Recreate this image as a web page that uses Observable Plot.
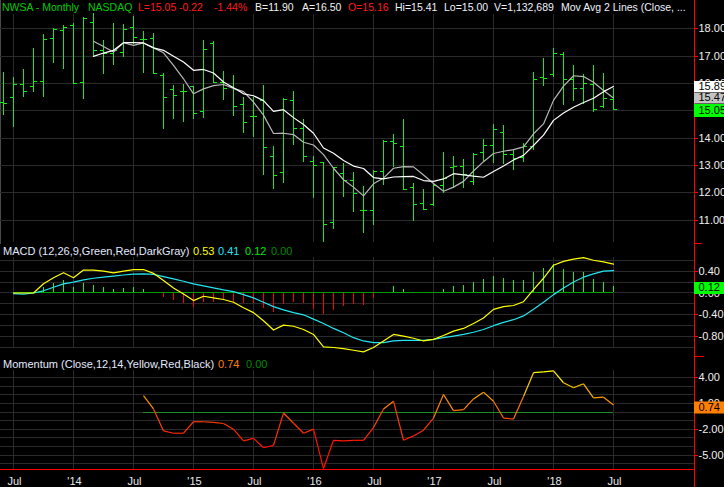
<!DOCTYPE html>
<html><head><meta charset="utf-8">
<script src="https://cdn.jsdelivr.net/npm/d3@7"></script>
<script src="https://cdn.jsdelivr.net/npm/@observablehq/plot@0.6"></script>
<style>
html,body{margin:0;padding:0;background:#000;}
#chart{position:relative;width:724px;height:487px;background:#000;overflow:hidden;font-family:"Liberation Sans",Arial,sans-serif;font-size:11px;}
#chart svg{position:absolute;left:0;}
.t{position:absolute;white-space:pre;line-height:13px;}
.h{font-size:10.5px;}
.sep{position:absolute;height:1px;background:#ff0000;}
</style></head><body><div id="chart"></div>
<script>
// ---- data (monthly, index 0 = Jun 2013 ... 61 = Jul 2018) ----
const barOpen = [15.29,15.48,15.95,15.90,16.07,17.63,17.93,18.10,16.02,18.21, 17.22,17.08,17.12,18.04,17.62,17.66,16.29,15.77,15.71,15.87, 14.98,17.45,16.05,15.84,15.23,14.78,15.38,13.33,12.76,15.38, 14.34,13.16,13.11,10.90,12.70,12.45,11.35,11.35,12.77,13.87, 13.68,12.18,11.60,11.56,12.28,12.91,12.96,12.43,13.48,13.74, 14.19,13.39,13.30,13.70,16.22,16.34,17.07,16.14,15.80,15.95, 15.15,15.43];
const barHigh = [16.41,16.23,16.51,17.29,17.79,18.00,18.13,18.18,18.41,18.54, 17.57,18.18,18.16,18.46,17.90,17.82,16.35,15.93,15.96,15.89, 17.57,17.54,16.42,16.30,15.50,15.48,15.93,13.70,15.44,15.71, 14.68,13.33,13.11,12.94,13.09,12.76,12.23,12.80,13.90,14.12, 14.68,12.33,12.12,12.33,13.49,13.34,13.22,13.43,13.95,14.50, 14.46,13.60,13.81,16.40,16.92,17.29,17.13,16.67,16.32,16.65, 16.37,15.83];
const barLow = [14.83,14.40,15.50,15.68,15.50,16.72,16.52,15.96,15.41,16.95, 16.32,16.66,16.93,17.41,16.35,16.37,14.30,14.67,14.59,14.67, 14.70,16.00,15.38,14.80,14.18,14.04,12.63,12.13,12.35,13.73, 13.12,11.80,10.20,10.66,11.84,11.29,10.52,10.81,12.28,12.92, 12.11,10.96,11.39,11.51,11.99,12.15,12.17,12.26,13.15,13.06, 13.04,12.81,13.11,13.55,15.89,16.22,15.19,15.34,15.22,14.94, 15.09,15.00];
const barClose = [15.26,15.96,15.71,16.07,17.61,17.98,18.06,15.99,18.38,17.22, 17.08,17.22,17.96,17.67,17.62,16.37,15.48,15.55,15.71,14.89, 17.23,16.05,15.80,15.16,14.59,14.78,13.65,12.63,15.41,14.34, 13.34,13.00,10.83,12.94,12.45,11.96,11.35,12.77,13.87,13.81, 12.12,11.56,11.39,12.28,12.51,12.98,12.67,13.39,13.72,14.32, 13.39,13.26,13.69,16.14,16.19,17.11,16.14,15.80,15.98,15.03, 15.45,15.05];
const maSlow = [null,null,null,null,null,null,null,null,null, 16.99,17.11,17.21,17.49,17.49,17.48,17.30,17.21,16.99,16.78, 16.48,16.51,16.38,16.05,15.84,15.62,15.55,15.37,14.98,15.04, 14.75,14.50,14.18,13.64,13.45,13.18,12.98,12.89,12.56,12.51, 12.58,12.59,12.60,12.45,12.42,12.51,12.70,12.66,12.61,12.57, 12.78,12.98,13.20,13.37,13.73,14.11,14.65,14.92,15.13,15.30, 15.46,15.70,15.89];
const maFast = [null,null,null,null,null,null,null,null,null, 17.54,17.35,17.15,17.49,17.39,17.48,17.30,17.12,16.66,16.17, 15.62,15.80,15.92,15.96,15.82,15.70,15.32,14.84,14.17,14.18, 14.13,13.85,13.75,13.40,12.90,12.48,12.21,11.89,12.33,12.54, 12.90,12.96,12.95,12.65,12.34,12.06,12.21,12.42,12.80,13.14, 13.44,13.52,13.58,13.68,14.16,14.52,15.38,15.90,16.28,16.25, 16.04,15.74,15.47];
const macdLine = [null, 0.00,0.00,0.00,0.17,0.28,0.37,0.28,0.42,0.42,0.40, 0.37,0.40,0.43,0.43,0.36,0.23,0.09,-0.02,-0.14,-0.06, -0.09,-0.12,-0.17,-0.27,-0.36,-0.51,-0.68,-0.59,-0.61,-0.67, -0.76,-0.99,-1.00,-1.02,-1.05,-1.08,-1.00,-0.88,-0.76,-0.79, -0.83,-0.88,-0.85,-0.78,-0.70,-0.65,-0.56,-0.46,-0.30,-0.25, -0.23,-0.16,0.06,0.27,0.51,0.58,0.62,0.65,0.60,0.57, 0.53];
const signalLine = [null, -0.01,-0.02,0.00,0.04,0.105,0.167,0.20,0.24,0.27,0.29, 0.31,0.33,0.346,0.35,0.34,0.30,0.26,0.216,0.167,0.13, 0.093,0.056,0.025,-0.03,-0.09,-0.17,-0.25,-0.31,-0.36,-0.40, -0.48,-0.56,-0.65,-0.73,-0.82,-0.88,-0.91,-0.91,-0.88,-0.87, -0.87,-0.87,-0.85,-0.82,-0.79,-0.76,-0.72,-0.67,-0.60,-0.54, -0.49,-0.42,-0.30,-0.17,-0.03,0.09,0.20,0.29,0.35,0.40, 0.41];
const macdHist = [null, 0,0,0,0.105,0.179,0.228,0.105,0.179,0.136,0.093, 0.062,0.086,0.093,0.062,0.012,-0.09,-0.13,-0.20,-0.26,-0.17, -0.17,-0.14,-0.17,-0.20,-0.20,-0.28,-0.36,-0.22,-0.17,-0.20, -0.30,-0.40,-0.32,-0.25,-0.22,-0.23,-0.11,0.01,0.12,0.06, 0.01,-0.005,0,0.06,0.12,0.14,0.19,0.25,0.31,0.26, 0.23,0.23,0.37,0.45,0.52,0.43,0.38,0.37,0.25,0.20, 0.12];
const momentum = [null,null,null,null,null,null,null,null,null,null,null,null,null,null, 1.91,0.35,-2.19,-2.46,-2.46,-1.13,-1.13,-1.21,-1.33,-1.99, -3.35,-3.05,-4.14,-3.87,-0.12,-1.30,-2.46,-1.99,-6.55,-3.28, -3.35,-3.28,-3.28,-1.80,0.35,1.25,-3.28,-2.77,-2.11,-0.70, 2.03,0.16,0.27,1.52,2.30,1.25,-0.70,-0.82,1.79,4.56, 4.64,4.76,3.39,2.81,3.27,1.64,1.72,0.82];

const xTickIdx = [1,7,13,19,25,31,37,43,49,55,61];
const xTickLabels = ["Jul","'14","Jul","'15","Jul","'16","Jul","'17","Jul","'18","Jul"];
const priceTicks = [11,12,13,14,15,16,17,18];
const priceLabelTicks = [18,17,16,14,13,12,11];
const macdGrid = [0.6,0.4,0.2,0,-0.2,-0.4,-0.6,-0.8,-1.0];
const macdTicks = [0.4,0,-0.4,-0.8];
const momGrid = [4,3,2,1,0,-1,-2,-3,-4,-5,-6];
const momTicks = [4,1,-2,-5];

const header = [
  {x:2, text:"NWSA - Monthly", color:"#00cc00"},
  {x:88, text:"NASDAQ", color:"#00cc00"},
  {x:138, text:"L=15.05", color:"#ff1a1a"},
  {x:179, text:"-0.22", color:"#ff1a1a"},
  {x:214, text:"-1.44%", color:"#ff1a1a"},
  {x:255, text:"B=11.90", color:"#f2f2f2"},
  {x:302, text:"A=16.50", color:"#f2f2f2"},
  {x:348, text:"O=15.16", color:"#ff1a1a"},
  {x:395, text:"Hi=15.41", color:"#eef2ff"},
  {x:444, text:"Lo=15.00", color:"#eef2ff"},
  {x:494, text:"V=1,132,689", color:"#eef2ff"},
  {x:561, text:"Mov Avg 2 Lines (Close, ...", color:"#eef2ff"}
];
const macdTitle = [
  {x:3, text:"MACD (12,26,9,Green,Red,DarkGray)", color:"#e2eaff"},
  {x:193, text:"0.53", color:"#ffff00"},
  {x:218, text:"0.41", color:"#22e6f2"},
  {x:245, text:"0.12", color:"#00e600"},
  {x:271, text:"0.00", color:"#008a00"}
];
const momTitle = [
  {x:3, text:"Momentum (Close,12,14,Yellow,Red,Black)", color:"#e2eaff"},
  {x:218, text:"0.74", color:"#ff8000"},
  {x:246, text:"0.00", color:"#008a00"}
];

// ---- styling / layout ----
const GRID = "#2a2a2a", RED = "#ff0000", LABEL = "#f0f0f0", GREEN = "#10f010";
const XMIN = -0.3, XAXIS = 69.1;
const FONT = "'Liberation Sans', Arial, sans-serif";
const CRISP = {shapeRendering: "crispEdges"};
const chart = document.getElementById("chart");

function base(height, mt, mb, ydom) {
  return {
    width: 724, height, marginTop: mt, marginBottom: mb, marginLeft: 0, marginRight: 30,
    x: {type: "linear", domain: [XMIN, XAXIS], axis: null},
    y: {type: "linear", domain: ydom, axis: null},
    style: {background: "transparent", color: LABEL, fontFamily: FONT, fontSize: "11px", overflow: "hidden"}
  };
}
function rightAxis(ticks) {
  return [
    Plot.ruleX([XAXIS], {y1: -1000, y2: 1000, stroke: RED, ...CRISP}),
    Plot.ruleY(ticks, {x1: XAXIS, x2: XAXIS + 0.35, stroke: RED, ...CRISP}),
    Plot.text(ticks, {x: XAXIS, y: d => d, dx: 4, text: d => d.toFixed(2), textAnchor: "start", fill: LABEL})
  ];
}
function valueBox(v, fill, dy, sw) {
  return [
    Plot.ruleY([v], {x1: XAXIS, x2: XAXIS + 3.5, stroke: fill, strokeWidth: sw, dy}),
    Plot.text([v], {x: XAXIS, y: d => d, dx: 4, dy, text: d => d.toFixed(2), textAnchor: "start", fill: "#000"})
  ];
}
function place(svg, top) { svg.style.top = top + "px"; chart.appendChild(svg); }

// ---- price panel ----
const bars = barOpen.map((o, i) => ({i, open: o, high: barHigh[i], low: barLow[i], close: barClose[i]}));
const maRows = maSlow.map((s, i) => ({i, slow: s, fast: maFast[i]})).filter(d => d.slow != null);
const pDom = [10.186, 18.519];
place(Plot.plot({
  ...base(244, 14, 2, pDom),
  marks: [
    Plot.ruleX([XMIN], {y1: -1000, y2: 1000, stroke: "#4a4a4a", ...CRISP}),
    Plot.ruleY(priceTicks, {x1: XMIN, x2: XAXIS, stroke: GRID, ...CRISP}),
    Plot.ruleX(xTickIdx, {stroke: GRID, ...CRISP}),
    Plot.ruleX(bars, {x: "i", y1: "low", y2: "high", stroke: GREEN, ...CRISP}),
    Plot.ruleY(bars, {y: "open", x1: d => d.i - 0.35, x2: "i", stroke: GREEN, ...CRISP}),
    Plot.ruleY(bars, {y: "close", x1: "i", x2: d => d.i + 0.35, stroke: GREEN, ...CRISP}),
    Plot.line(maRows, {x: "i", y: "fast", stroke: "#b8b8b8", strokeWidth: 1.2}),
    Plot.line(maRows, {x: "i", y: "slow", stroke: "#ffffff", strokeWidth: 1.2}),
    ...rightAxis(priceLabelTicks),
    ...valueBox(maSlow[61], "#ffffff", 0, 11),
    ...valueBox(maFast[61], "#c4c4c4", 0, 11),
    ...valueBox(barClose[61], "#00ff00", 1, 13)
  ]
}), 0);

// ---- MACD panel (svg slightly taller so the deepest dip is not cut) ----
const macdRows = macdLine.map((m, i) => ({i, m, s: signalLine[i], h: macdHist[i]})).filter(d => d.m != null);
const mDom = [-1.0, 0.651];
place(Plot.plot({
  ...base(112, 13, 9, mDom),
  marks: [
    Plot.ruleY(macdGrid, {x1: XMIN, x2: XAXIS, stroke: GRID, ...CRISP}),
    Plot.ruleX(xTickIdx, {stroke: GRID, ...CRISP}),
    Plot.ruleX(macdRows.filter(d => d.h !== 0), {x: "i", y1: 0, y2: "h", stroke: d => d.h > 0 ? "#00ff00" : "#ff0000", ...CRISP}),
    Plot.ruleY([0], {x1: 1, x2: 61, stroke: "#00a000", ...CRISP}),
    Plot.line(macdRows, {x: "i", y: "s", stroke: "#22e6f2", strokeWidth: 1.2}),
    Plot.line(macdRows, {x: "i", y: "m", stroke: "#ffff00", strokeWidth: 1.2}),
    Plot.ruleX([XAXIS], {y1: mDom[0] - 0.12, y2: 1000, stroke: RED, ...CRISP}),
    Plot.ruleY(macdTicks, {x1: XAXIS, x2: XAXIS + 0.35, stroke: RED, ...CRISP}),
    Plot.text(macdTicks, {x: XAXIS, y: d => d, dx: 4, text: d => d.toFixed(2), textAnchor: "start", fill: LABEL}),
    ...valueBox(macdHist[61], "#00ff00", 1.5, 12)
  ]
}), 244);

// ---- Momentum panel ----
const momColor = d3.scaleLinear().domain([-4, -1, 1, 3, 4.5])
  .range(["#ff1000", "#ff3c00", "#ff8c00", "#ffc000", "#ffff00"]).clamp(true);
const momSegs = [];
momentum.forEach((v, i) => {
  if (v != null && momentum[i + 1] != null) momSegs.push({x1: i, y1: v, x2: i + 1, y2: momentum[i + 1]});
});
const xTicks = xTickIdx.map((x, k) => ({x, label: xTickLabels[k]}));
const qDom = [-6.663, 4.809];
place(Plot.plot({
  ...base(137, 20, 18, qDom),
  marks: [
    Plot.ruleY(momGrid, {x1: XMIN, x2: XAXIS, stroke: GRID, ...CRISP}),
    Plot.ruleX(xTickIdx, {stroke: GRID, ...CRISP}),
    Plot.ruleY([0], {x1: 14, x2: 61, stroke: "#1e8c1e", ...CRISP}),
    Plot.link(momSegs, {x1: "x1", y1: "y1", x2: "x2", y2: "y2", stroke: d => momColor((d.y1 + d.y2) / 2), strokeWidth: 1.2}),
    Plot.ruleY([qDom[0]], {x1: XMIN, x2: XAXIS, stroke: RED, ...CRISP}),
    Plot.text(xTicks, {x: "x", y: qDom[0], dy: 12, dx: 1, text: "label", fill: "#e8e8e8"}),
    ...rightAxis(momTicks),
    ...valueBox(0.74, "#ff8000", 2, 12)
  ]
}), 350);

// ---- HTML text: header and panel titles ----
function addTexts(items, top, cls) {
  for (const it of items) {
    const d = document.createElement("div");
    d.className = "t" + (cls ? " " + cls : ""); d.textContent = it.text;
    d.style.left = it.x + "px"; d.style.top = top + "px"; d.style.color = it.color;
    chart.appendChild(d);
  }
}
addTexts(header, 1, "h");
addTexts(macdTitle, 245);
addTexts(momTitle, 358);
for (const s of [{y: 243, w: 8}, {y: 356, w: 10}]) {
  const d = document.createElement("div");
  d.className = "sep"; d.style.left = "694px"; d.style.top = s.y + "px"; d.style.width = s.w + "px";
  chart.appendChild(d);
}
</script></body></html>
